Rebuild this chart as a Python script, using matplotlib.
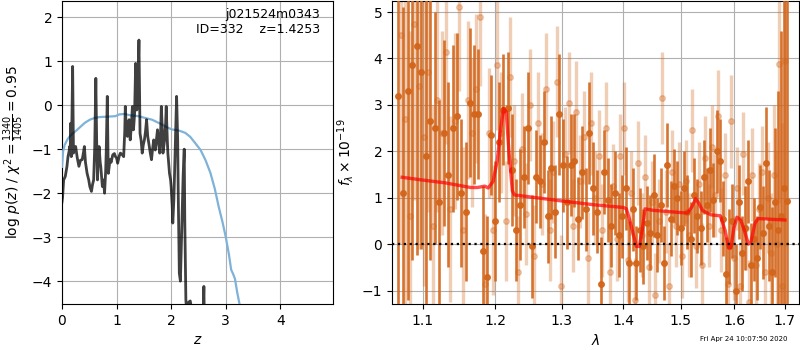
import matplotlib
matplotlib.use('Agg')
import matplotlib.pyplot as plt
from matplotlib.ticker import NullLocator

# p(z) panel
z_grid = [0.00, 0.01, 0.03, 0.06, 0.09, 0.11, 0.13, 0.14, 0.15, 0.16,
          0.17, 0.18, 0.195, 0.21, 0.23, 0.25, 0.28, 0.31, 0.34, 0.37,
          0.39, 0.41, 0.43, 0.46, 0.49, 0.51, 0.54, 0.56, 0.58, 0.60,
          0.62, 0.635, 0.65, 0.665, 0.68, 0.70, 0.71, 0.74, 0.76, 0.78,
          0.80, 0.81, 0.83, 0.845, 0.85, 0.88, 0.90, 0.93, 0.96, 0.98,
          1.00, 1.02, 1.05, 1.07, 1.10, 1.13, 1.15, 1.16, 1.18, 1.20,
          1.22, 1.23, 1.25, 1.27, 1.29, 1.31, 1.33, 1.35, 1.37, 1.39,
          1.41, 1.43, 1.45, 1.47, 1.49, 1.51, 1.53, 1.55, 1.57, 1.60,
          1.62, 1.64, 1.66, 1.68, 1.70, 1.71, 1.73, 1.75, 1.77, 1.79,
          1.81, 1.82, 1.84, 1.85, 1.87, 1.88, 1.90, 1.91, 1.93, 1.94,
          1.96, 1.97, 1.99, 2.00, 2.02, 2.03, 2.05, 2.07, 2.09, 2.10,
          2.12, 2.13, 2.15, 2.17, 2.18, 2.20, 2.22, 2.24, 2.25, 2.27,
          2.29, 2.31, 2.32, 2.35, 2.37, 2.40, 2.50, 2.58, 2.60, 2.61,
          2.70, 3.00]
logpz = [-2.20, -2.10, -1.70, -1.62, -1.40, -1.17, -1.05, -0.94, -1.10, -0.41,
         -1.17, -0.50, 0.88, -1.09, -0.95, -0.94, -1.20, -1.39, -1.25, -1.24,
         -1.10, -0.94, -1.30, -1.55, -1.70, -1.85, -1.96, -1.80, -1.70, -0.94,
         0.61, -0.80, -1.70, -1.20, -0.94, -1.30, -1.39, -1.85, -1.70, -2.00,
         -1.50, -1.09, 0.20, -1.30, -1.55, -1.24, -1.30, -1.13, -1.10, -1.17,
         -1.20, -1.32, -1.15, -1.09, -1.12, -1.17, -0.60, -0.03, -0.60, -0.71,
         -0.40, -0.33, -0.79, -0.50, -0.03, -0.56, -0.20, 0.95, -0.11, 0.40,
         1.48, -0.64, -0.80, -1.09, -0.90, -0.79, -0.60, -0.33, -0.70, -0.94,
         -1.10, -1.24, -1.00, -0.79, -0.90, -1.02, -0.80, -0.56, -0.85, -1.09,
         -0.50, -0.03, -0.60, -1.09, -0.90, -0.79, -0.40, -0.03, -0.80, -1.09,
         -1.40, -1.55, -1.70, -1.85, -2.30, -2.68, -2.15, -1.20, -0.30, 0.20,
         -0.79, -2.00, -3.82, -4.00, -3.52, -2.50, -1.60, -1.00, -2.60, -4.42,
         -4.80, -4.55, -4.48, -4.45, -4.60, -5.50, -6.00, -5.00, -4.12, -5.00,
         -6.50, -8.00]

z_smooth = [0.00, 0.02, 0.05, 0.10, 0.14, 0.20, 0.26, 0.33, 0.42, 0.51,
            0.60, 0.69, 0.85, 0.98, 1.05, 1.15, 1.25, 1.40, 1.55, 1.65,
            1.80, 1.92, 2.01, 2.15, 2.26, 2.35, 2.44, 2.54, 2.63, 2.72,
            2.80, 2.87, 2.94, 3.00, 3.06, 3.10, 3.14, 3.17, 3.21, 3.25, 3.30]
logp_smooth = [-1.40, -1.05, -0.90, -0.78, -0.71, -0.64, -0.58, -0.50, -0.40, -0.33,
               -0.29, -0.27, -0.26, -0.25, -0.21, -0.20, -0.23, -0.25, -0.30, -0.33,
               -0.42, -0.50, -0.55, -0.58, -0.63, -0.72, -0.86, -1.02, -1.25, -1.54,
               -1.90, -2.30, -2.65, -2.99, -3.40, -3.74, -3.85, -3.95, -4.25, -4.50, -4.80]

# spectrum panel, first orientation (dark)
wave_a = [1.068, 1.074, 1.080, 1.086, 1.092, 1.098, 1.104, 1.110, 1.116, 1.122,
          1.128, 1.134, 1.140, 1.146, 1.152, 1.158, 1.164, 1.170, 1.176, 1.182,
          1.188, 1.194, 1.200, 1.206, 1.212, 1.218, 1.224, 1.230, 1.236, 1.242,
          1.248, 1.254, 1.260, 1.266, 1.272, 1.278, 1.284, 1.290, 1.296, 1.302,
          1.308, 1.314, 1.320, 1.326, 1.332, 1.338, 1.344, 1.350, 1.356, 1.362,
          1.368, 1.374, 1.380, 1.386, 1.392, 1.398, 1.404, 1.410, 1.416, 1.422,
          1.428, 1.434, 1.440, 1.446, 1.452, 1.458, 1.464, 1.470, 1.476, 1.482,
          1.488, 1.494, 1.500, 1.506, 1.512, 1.518, 1.524, 1.530, 1.536, 1.542,
          1.548, 1.554, 1.560, 1.566, 1.572, 1.578, 1.584, 1.590, 1.596, 1.602,
          1.608, 1.614, 1.620, 1.626, 1.632, 1.638, 1.644, 1.650, 1.656, 1.662,
          1.668, 1.674, 1.680, 1.686, 1.692, 1.698, 1.704]
flux_a = [3.20, 1.10, 3.30, 3.85, 4.27, 3.70, 1.90, 2.65, 2.50, 0.90,
          2.40, 1.50, 2.50, 2.75, 1.10, 0.70, 3.05, 2.80, 2.80, -0.15,
          -0.70, 2.35, 0.50, 2.20, 2.90, 2.93, 1.60, 0.30, 0.85, 1.45,
          2.50, -0.05, 1.45, 1.35, 2.20, 0.60, 1.65, 0.70, 2.80, 1.70,
          0.90, 1.70, 1.80, 0.55, 1.55, 0.75, 2.40, 1.20, 0.70, -0.85,
          1.55, 0.95, 0.40, 1.10, 0.20, 0.60, 1.20, -0.40, 0.75, -0.40,
          0.30, -0.05, 0.45, 0.25, 1.05, 0.20, 0.85, -0.40, 1.70, 0.55,
          1.25, 1.00, 0.35, 1.20, 0.70, 0.10, 1.05, 0.60, 0.35, 1.45,
          0.85, 1.60, 0.95, 2.00, 1.80, 0.55, -0.65, -0.05, 0.50, -1.00,
          0.90, -0.20, 0.35, 1.35, -0.45, 0.10, -0.30, 0.80, 0.25, 1.75,
          0.40, -0.60, 0.90, 0.30, 0.60, 1.20, 0.92]
err_a = [4.5, 4.0, 4.5, 4.2, 4.5, 3.8, 3.5, 3.0, 2.5, 2.2,
         2.0, 2.0, 1.8, 1.8, 1.6, 1.5, 1.6, 1.5, 1.4, 1.4,
         1.3, 1.3, 1.3, 1.3, 1.2, 1.2, 1.2, 1.1, 1.2, 1.1,
         1.2, 1.1, 1.0, 1.0, 1.1, 1.0, 1.1, 1.0, 1.3, 1.0,
         1.0, 1.1, 1.0, 0.9, 1.0, 0.9, 1.1, 1.0, 0.9, 1.0,
         0.9, 0.9, 0.9, 0.9, 0.9, 0.9, 0.9, 0.9, 0.9, 0.8,
         0.9, 0.8, 0.8, 0.8, 0.9, 0.8, 0.8, 0.8, 0.9, 0.8,
         0.8, 0.8, 0.8, 0.8, 0.8, 0.8, 0.8, 0.8, 0.8, 0.8,
         0.8, 0.9, 0.8, 0.9, 0.9, 0.8, 0.8, 0.8, 0.8, 1.0,
         0.8, 0.8, 0.9, 0.9, 0.9, 0.9, 0.9, 0.9, 1.0, 1.2,
         1.2, 1.4, 1.6, 3.0, 4.0, 5.0, 5.0]

# second orientation (light)
wave_b = [1.071, 1.077, 1.083, 1.089, 1.095, 1.101, 1.107, 1.113, 1.119, 1.125,
          1.131, 1.137, 1.143, 1.149, 1.155, 1.161, 1.167, 1.173, 1.179, 1.185,
          1.191, 1.197, 1.203, 1.209, 1.215, 1.221, 1.227, 1.233, 1.239, 1.245,
          1.251, 1.257, 1.263, 1.269, 1.275, 1.281, 1.287, 1.293, 1.299, 1.305,
          1.311, 1.317, 1.323, 1.329, 1.335, 1.341, 1.347, 1.353, 1.359, 1.365,
          1.371, 1.377, 1.383, 1.389, 1.395, 1.401, 1.407, 1.413, 1.419, 1.425,
          1.431, 1.437, 1.443, 1.449, 1.455, 1.461, 1.467, 1.473, 1.479, 1.485,
          1.491, 1.497, 1.503, 1.509, 1.515, 1.521, 1.527, 1.533, 1.539, 1.545,
          1.551, 1.557, 1.563, 1.569, 1.575, 1.581, 1.587, 1.593, 1.599, 1.605,
          1.611, 1.617, 1.623, 1.629, 1.635, 1.641, 1.647, 1.653, 1.659, 1.665,
          1.671, 1.677, 1.683, 1.689, 1.695, 1.701]
flux_b = [4.50, 2.70, 0.60, 4.75, 3.40, 2.30, 3.70, 0.40, 3.10, 2.40,
          4.15, 0.75, 2.65, 5.10, 0.30, 3.10, 2.40, 3.35, 4.90, -0.85,
          2.40, 0.30, 3.85, 2.40, 0.50, 3.60, 1.80, -0.60, 2.05, 0.65,
          3.00, -0.25, 2.60, 1.30, 3.35, 0.30, 1.55, 3.50, -0.90, 1.95,
          3.05, 0.40, 2.85, 1.35, 2.30, -0.30, 2.60, 1.00, 1.90, 0.30,
          2.50, -0.60, 1.25, 0.10, 1.90, 2.50, -0.35, 1.10, -1.20, 1.75,
          0.20, 1.45, -0.50, 0.90, -1.10, 0.50, 3.15, 0.70, -0.90, 1.55,
          0.40, 1.30, -0.25, 1.35, 0.20, 2.45, -0.05, 1.30, -0.45, 1.85,
          0.40, 2.10, 1.05, 2.75, 0.30, 1.50, -0.85, 2.65, -0.30, 1.20,
          -0.90, 1.95, 0.35, -1.25, 1.50, -0.45, 0.75, 1.55, -0.60, 1.00,
          -0.20, 1.50, 0.00, 3.88, -0.90, 3.95]
err_b = [4.5, 4.0, 4.0, 3.8, 3.5, 3.2, 3.0, 2.6, 2.4, 2.2,
         2.0, 2.0, 1.9, 1.8, 1.8, 1.7, 1.6, 1.6, 1.5, 1.5,
         1.4, 1.4, 1.4, 1.3, 1.3, 1.3, 1.2, 1.2, 1.2, 1.1,
         1.2, 1.1, 1.1, 1.1, 1.2, 1.1, 1.1, 1.2, 1.1, 1.0,
         1.1, 1.0, 1.1, 1.0, 1.0, 1.0, 1.1, 1.0, 1.0, 1.0,
         1.0, 1.0, 0.9, 0.9, 0.9, 1.0, 0.9, 0.9, 0.9, 0.9,
         0.9, 0.9, 0.9, 0.9, 0.9, 0.9, 1.0, 0.9, 0.9, 0.9,
         0.9, 0.9, 0.9, 0.9, 0.9, 0.9, 0.9, 0.9, 0.9, 0.9,
         0.9, 0.9, 0.9, 1.0, 0.9, 0.9, 0.9, 1.0, 0.9, 0.9,
         0.9, 0.9, 0.9, 0.9, 1.0, 1.0, 1.0, 1.0, 1.1, 1.2,
         1.3, 1.5, 2.0, 3.0, 3.5, 4.0]

# best-fit model
wave_model = [1.073, 1.100, 1.130, 1.165, 1.175, 1.185, 1.190, 1.197, 1.203, 1.208,
              1.212, 1.216, 1.220, 1.225, 1.228, 1.300, 1.350, 1.400, 1.405, 1.410,
              1.417, 1.422, 1.427, 1.432, 1.437, 1.450, 1.500, 1.512, 1.520, 1.527,
              1.532, 1.540, 1.556, 1.573, 1.582, 1.589, 1.593, 1.599, 1.605, 1.612,
              1.619, 1.627, 1.632, 1.640, 1.646, 1.700]
flux_model = [1.44, 1.38, 1.32, 1.22, 1.22, 1.25, 1.21, 1.35, 1.80, 2.50,
              2.92, 2.85, 2.00, 1.15, 1.06, 0.93, 0.85, 0.79, 0.76, 0.55,
              0.20, -0.05, -0.05, 0.30, 0.76, 0.73, 0.68, 0.67, 0.80, 0.98,
              0.90, 0.72, 0.63, 0.61, 0.30, -0.08, -0.08, 0.35, 0.58, 0.52,
              0.30, 0.00, 0.05, 0.45, 0.55, 0.52]

wave_ticks = [1.1, 1.2, 1.3, 1.4, 1.5, 1.6, 1.7]
label_text = 'j021524m0343\nID=332    z=1.4253'
stamp_text = 'Fri Apr 24 10:07:50 2020'

ORANGE = '#d2651a'


def plot_pz(ax):
    """log p(z) against redshift"""
    ax.plot(z_smooth, logp_smooth, color='#7fb2d9', lw=1.6, zorder=3)
    ax.plot(z_grid, logpz, color='k', alpha=0.75, lw=2.0, zorder=4)
    ax.set_xlim(0, 4.97)
    ax.set_ylim(-4.52, 2.37)
    ax.set_xticks([0, 1, 2, 3, 4])
    ax.set_yticks([-4, -3, -2, -1, 0, 1, 2])
    ax.grid(True, zorder=0)
    ax.set_axisbelow(True)
    ax.set_xlabel('$z$')
    ax.set_ylabel(r'log $p(z)$ / $\chi^2=\frac{1340}{1405}=0.95$')
    ax.text(0.95, 0.975, label_text, transform=ax.transAxes, ha='right',
            va='top', fontsize=9, multialignment='right', zorder=5)


def plot_spectrum(ax):
    """1D spectrum with errors and the model"""
    ax.errorbar(wave_b, flux_b, yerr=err_b, color=ORANGE, alpha=0.32,
                linestyle='None', marker='o', ms=4, elinewidth=2.4, zorder=2)
    ax.errorbar(wave_a, flux_a, yerr=err_a, color=ORANGE, alpha=0.9,
                linestyle='None', marker='o', ms=4, elinewidth=1.9, zorder=3)
    ax.plot(wave_model, flux_model, color='red', alpha=0.7, lw=2.4, zorder=5)
    ax.axhline(0, color='k', linestyle=':', lw=1.6, zorder=6)
    ax.set_xscale('log')
    ax.set_xlim(1.060, 1.7295)
    ax.set_ylim(-1.29, 5.24)
    ax.set_xticks(wave_ticks)
    ax.set_xticklabels(['%.1f' % w for w in wave_ticks])
    ax.xaxis.set_minor_locator(NullLocator())
    ax.grid(True, zorder=0)
    ax.set_axisbelow(True)
    ax.set_xlabel(r'$\lambda$')
    ax.set_ylabel(r'$f_\lambda\times10^{-19}$')


def main():
    assert len(wave_a) == len(flux_a) == len(err_a)
    assert len(wave_b) == len(flux_b) == len(err_b)
    assert len(z_grid) == len(logpz)
    assert len(z_smooth) == len(logp_smooth)
    assert len(wave_model) == len(flux_model)

    fig = plt.figure(figsize=(8, 3.5), dpi=100)
    ax1 = fig.add_axes([0.0775, 0.1314, 0.339, 0.866])
    ax2 = fig.add_axes([0.49, 0.1314, 0.509, 0.866])

    plot_pz(ax1)
    plot_spectrum(ax2)

    fig.text(0.984, 0.031, stamp_text, ha='right', va='center', fontsize=5)

    fig.savefig('out.png', dpi=100)
    plt.close(fig)


if __name__ == '__main__':
    main()
